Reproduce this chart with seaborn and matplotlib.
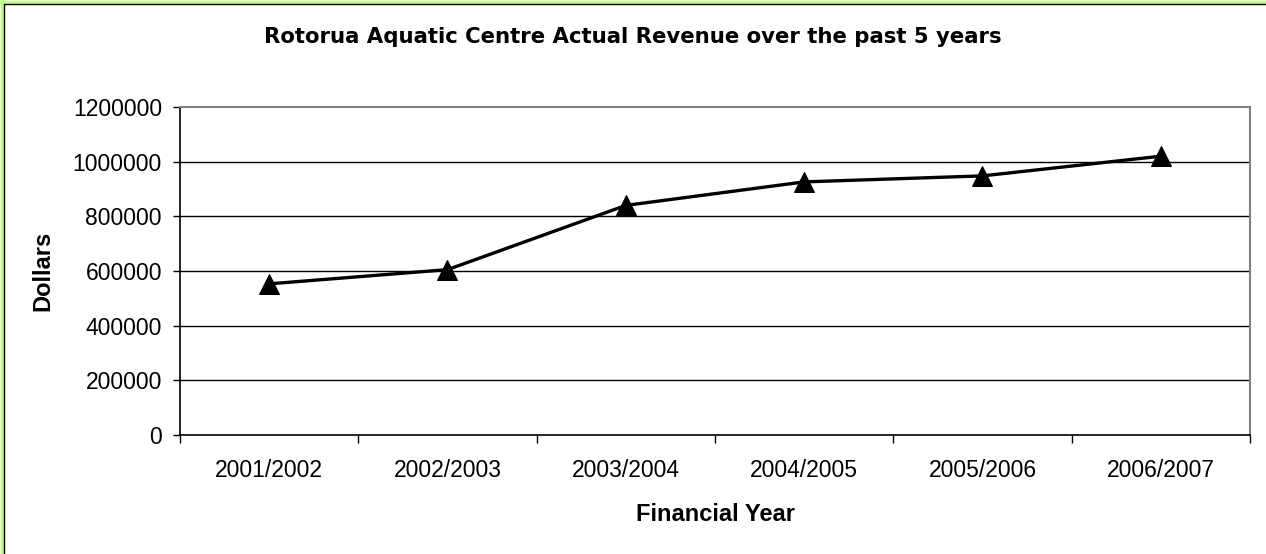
import matplotlib
matplotlib.use("Agg")
import matplotlib.pyplot as plt
from matplotlib.lines import Line2D
import seaborn as sns
import pandas as pd

# Revenue per financial year
years = ["2001/2002", "2002/2003", "2003/2004", "2004/2005", "2005/2006", "2006/2007"]
revenue = [553000, 605000, 840000, 926000, 948000, 1020000]
y_ticks = [0, 200000, 400000, 600000, 800000, 1000000, 1200000]

sns.set_theme(style="white")
plt.rcParams["font.family"] = ["Liberation Sans", "DejaVu Sans"]

df = pd.DataFrame({"pos": range(len(years)), "year": years, "revenue": revenue})

W, H = 1266, 554
fig = plt.figure(figsize=(W / 100, H / 100), dpi=100)
fig.patch.set_facecolor("white")
ax = fig.add_axes([180 / W, 119 / H, 1070 / W, 328 / H])
ax.set_facecolor("white")

sns.lineplot(data=df, x="pos", y="revenue", ax=ax, color="black", linewidth=2.4,
             marker="^", markersize=14, markeredgecolor="black", markerfacecolor="black",
             zorder=5)

ax.set_xlim(-0.5, len(years) - 0.5)
ax.set_ylim(0, 1200000)

# horizontal gridlines
for v in y_ticks[1:-1]:
    ax.axhline(v, color="black", linewidth=1.0, zorder=1)

ax.set_yticks(y_ticks)
ax.set_yticklabels([str(v) for v in y_ticks], fontsize=16.5, color="black")
ax.tick_params(axis="y", which="major", direction="out", length=5, width=1,
               color="black", pad=8, left=True)

# category boundaries as major ticks, labels centred on minor ticks
ax.set_xticks([i - 0.5 for i in range(len(years) + 1)])
ax.set_xticklabels([])
ax.set_xticks(range(len(years)), minor=True)
ax.set_xticklabels(years, minor=True, fontsize=16.5, color="black")
ax.tick_params(axis="x", which="major", direction="out", length=6, width=1,
               color="black", bottom=True)
ax.tick_params(axis="x", which="minor", length=0, pad=17)

for side in ["left", "bottom"]:
    ax.spines[side].set_color("black")
    ax.spines[side].set_linewidth(1.2)
for side in ["top", "right"]:
    ax.spines[side].set_color("#808080")
    ax.spines[side].set_linewidth(1.5)

ax.set_xlabel("Financial Year", fontsize=17, fontweight="bold", color="black")
ax.set_ylabel("Dollars", fontsize=17, fontweight="bold", color="black")
ax.xaxis.label.set_va("baseline")
ax.xaxis.set_label_coords(0.5, (435 - 521) / 328)
ax.yaxis.label.set_va("center")
ax.yaxis.set_label_coords((43 - 180) / 1070, 0.5)

fig.text(0.5, 1 - 43 / H, "Rotorua Aquatic Centre Actual Revenue over the past 5 years",
         ha="center", va="baseline", fontsize=15.3, fontweight="bold", color="black",
         family="DejaVu Sans")

# chart frame: green band with a dark inner edge along the top and left
green = "#C0FF80"
fig.add_artist(Line2D([0, 1], [1 - 1.5 / H, 1 - 1.5 / H], transform=fig.transFigure,
                      color=green, linewidth=2.3, zorder=10))
fig.add_artist(Line2D([1.5 / W, 1.5 / W], [0, 1], transform=fig.transFigure,
                      color=green, linewidth=2.3, zorder=10))
fig.add_artist(Line2D([3.5 / W, 1], [1 - 3.5 / H, 1 - 3.5 / H], transform=fig.transFigure,
                      color="black", linewidth=1.0, zorder=11))
fig.add_artist(Line2D([3.5 / W, 3.5 / W], [0, 1 - 3.5 / H], transform=fig.transFigure,
                      color="black", linewidth=1.0, zorder=11))

fig.savefig("out.png", dpi=100, facecolor=fig.get_facecolor())
